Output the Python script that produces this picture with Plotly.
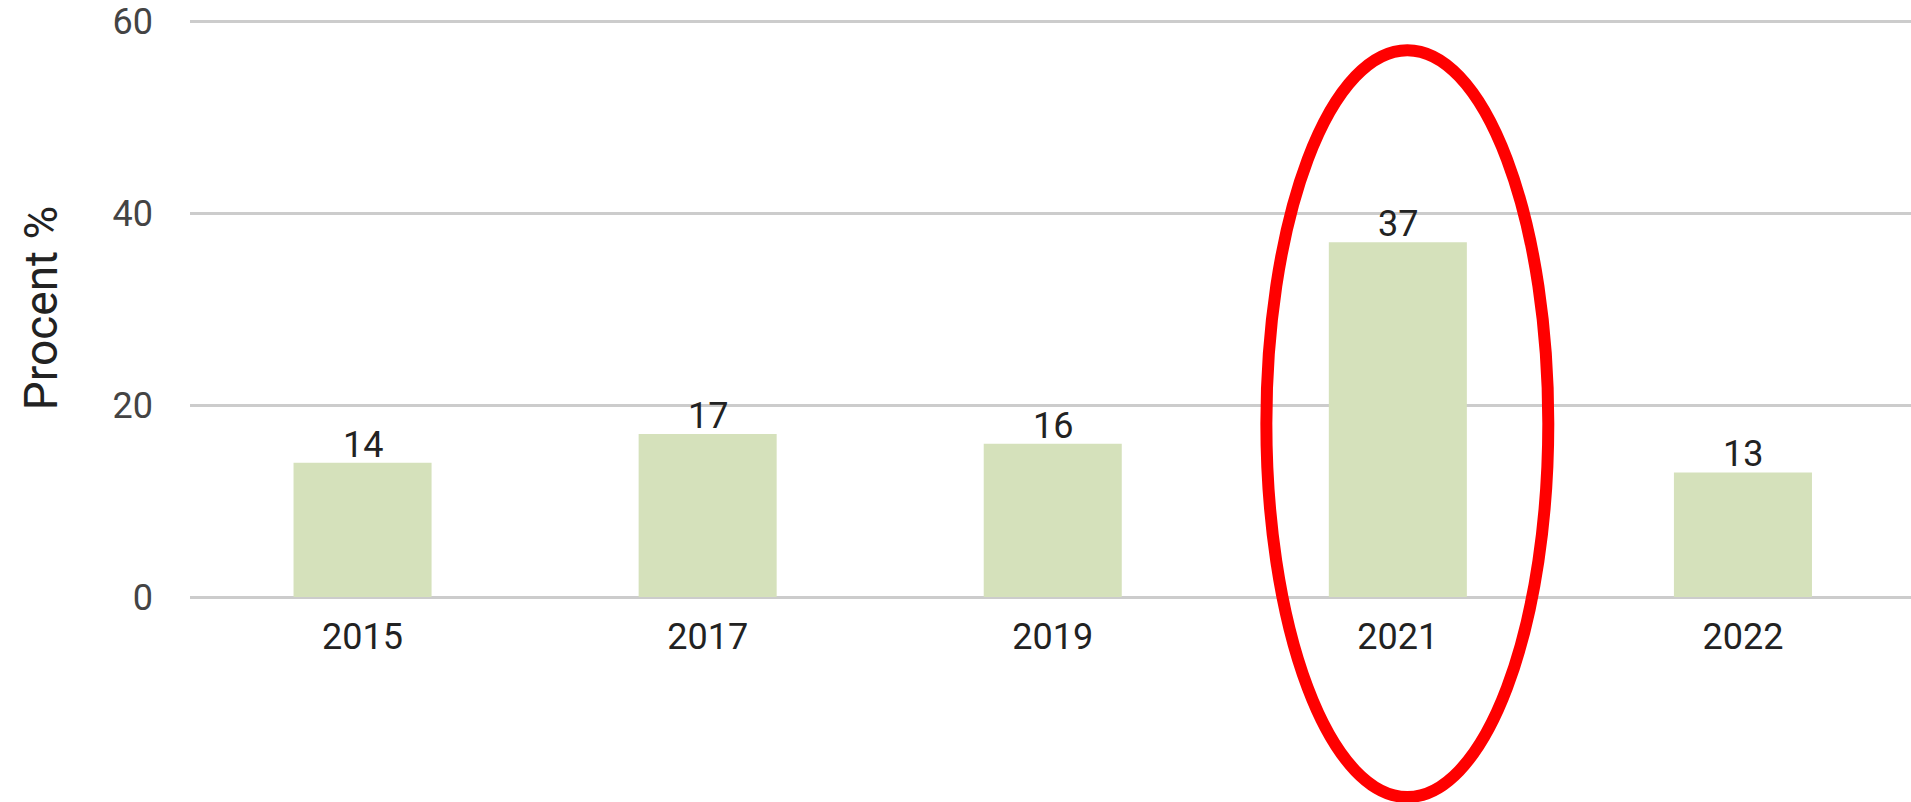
import plotly.graph_objects as go

# Share of respondents per survey year
years = ["2015", "2017", "2019", "2021", "2022"]
procent = [14, 17, 16, 37, 13]
y_ticks = [0, 20, 40, 60]

highlight_year = "2021"
highlight_idx = years.index(highlight_year)

fig = go.Figure(
    go.Bar(
        x=years,
        y=procent,
        width=0.4,
        marker=dict(color="#d5e1bb", line=dict(width=0)),
        hoverinfo="skip",
    )
)

# Value labels sitting just above each bar (category axis: position by index)
for i, val in enumerate(procent):
    fig.add_annotation(
        x=i,
        y=val,
        text=str(val),
        showarrow=False,
        xanchor="center",
        yanchor="bottom",
        yshift=-5,
        font=dict(family="Roboto", size=36, color="#222222"),
    )

# Red ring around the highlighted year
fig.add_shape(
    type="circle",
    xref="x",
    yref="paper",
    x0=highlight_idx - 0.381,
    x1=highlight_idx + 0.436,
    y0=-0.346,
    y1=0.946,
    line=dict(color="#ff0000", width=12),
    fillcolor="rgba(0,0,0,0)",
    layer="above",
)

fig.update_layout(
    width=1911,
    height=802,
    margin=dict(l=190, r=0, t=19, b=205),
    paper_bgcolor="white",
    plot_bgcolor="white",
    showlegend=False,
    font=dict(family="Roboto", color="#444444"),
)

fig.update_xaxes(
    type="category",
    range=[-0.5, 4.487],
    showgrid=False,
    showline=False,
    zeroline=False,
    ticks="",
    ticklabelstandoff=15,
    tickfont=dict(family="Roboto", size=36, color="#222222"),
)

fig.update_yaxes(
    range=[0, 60.3],
    tickvals=y_ticks,
    showgrid=True,
    gridcolor="#cccccc",
    gridwidth=2.7,
    zeroline=True,
    zerolinecolor="#cccccc",
    zerolinewidth=2.7,
    showline=False,
    ticks="",
    ticklabelstandoff=36,
    tickfont=dict(family="Roboto", size=36, color="#444444"),
    title=dict(
        text="Procent %",
        font=dict(family="Roboto", size=46, color="#222222"),
        standoff=40,
    ),
)

fig.write_html("out.html")
